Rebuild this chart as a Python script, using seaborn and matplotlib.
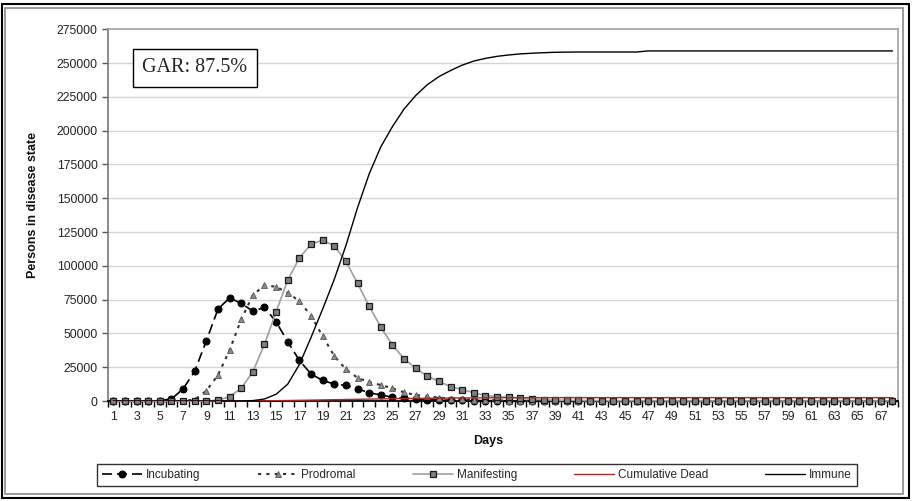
import numpy as np
import pandas as pd
import matplotlib
matplotlib.use("Agg")
import matplotlib.pyplot as plt
import seaborn as sns
from matplotlib.patches import Rectangle

days = list(range(1, 69))

incubating = [0, 0, 0, 0, 300, 1500, 9000, 22000, 44600, 68000,
              76300, 72200, 66500, 69200, 58600, 43800, 30000, 20000, 15200, 12500,
              11500, 9000, 6100, 4500, 2800, 2000, 1500, 1100, 800, 600,
              450, 350, 250, 180, 120, 80, 50, 30, 20, 10,
              0, 0, 0, 0, 0, 0, 0, 0, 0, 0,
              0, 0, 0, 0, 0, 0, 0, 0, 0, 0,
              0, 0, 0, 0, 0, 0, 0, 0]

prodromal = [0, 0, 0, 0, 0, 0, 300, 1000, 7600, 19200,
             37700, 60400, 78300, 85700, 84500, 80000, 73900, 63000, 48000, 33300,
             23400, 17200, 14000, 11800, 9400, 6400, 4400, 3500, 2500, 1800,
             1300, 900, 650, 450, 300, 200, 120, 80, 50, 30,
             0, 0, 0, 0, 0, 0, 0, 0, 0, 0,
             0, 0, 0, 0, 0, 0, 0, 0, 0, 0,
             0, 0, 0, 0, 0, 0, 0, 0]

manifesting = [0, 0, 0, 0, 0, 0, 0, 0, 0, 600,
               3200, 9400, 21700, 41900, 66000, 89400, 105900, 116000, 119000, 114800,
               103500, 87000, 70200, 54700, 41400, 31300, 24100, 18500, 14500, 10600,
               8400, 6100, 4000, 3200, 2700, 2200, 1200, 900, 600, 500,
               400, 300, 250, 200, 200, 150, 150, 120, 120, 100,
               100, 100, 80, 80, 80, 60, 60, 60, 50, 50,
               50, 40, 40, 40, 30, 30, 30, 30]

cumulative_dead = [0, 0, 0, 0, 0, 0, 0, 0, 0, 0,
                   0, 50, 100, 150, 250, 350, 500, 650, 800, 950,
                   1100, 1250, 1400, 1550, 1700, 1800, 1900, 2000, 2100, 2200,
                   2250, 2300, 2350, 2400, 2420, 2440, 2460, 2480, 2490, 2500,
                   2500, 2500, 2500, 2500, 2500, 2500, 2500, 2500, 2500, 2500,
                   2500, 2500, 2500, 2500, 2500, 2500, 2500, 2500, 2500, 2500,
                   2500, 2500, 2500, 2500, 2500, 2500, 2500, 2500]

immune = [0, 0, 0, 0, 0, 0, 0, 0, 0, 0,
          0, 0, 300, 1500, 5000, 12500, 27000, 47000, 68000, 90000,
          115000, 143000, 168000, 188000, 203000, 216000, 226000, 234000, 240000, 244500,
          248500, 251500, 253500, 255000, 256000, 256800, 257300, 257700, 258000, 258100,
          258200, 258200, 258200, 258200, 258200, 258200, 259000, 259000, 259000, 259000,
          259000, 259000, 259000, 259000, 259000, 259000, 259000, 259000, 259000, 259000,
          259000, 259000, 259000, 259000, 259000, 259000, 259000, 259000]

y_ticks = list(range(0, 275001, 25000))
x_tick_days = list(range(1, 68, 2))

df = pd.DataFrame({"Day": days, "Incubating": incubating, "Prodromal": prodromal,
                   "Manifesting": manifesting, "Cumulative Dead": cumulative_dead,
                   "Immune": immune})

sns.set_theme(style="white")
plt.rcParams['font.family'] = ['Liberation Sans', 'DejaVu Sans']

fig = plt.figure(figsize=(9.14, 5.01), dpi=100)
ax = fig.add_axes([107.5 / 914, 1 - 401 / 501, (898.3 - 107.5) / 914, (401 - 29.3) / 501])

# gridlines
for yv in y_ticks[1:-1]:
    ax.axhline(yv, color="#d4d4d4", lw=1.0, zorder=0)

sns.lineplot(data=df, x="Day", y="Incubating", ax=ax, color="black", lw=1.2,
             linestyle=(0, (6, 3)), marker="o", markersize=5,
             markerfacecolor="black", markeredgecolor="black",
             label="Incubating", errorbar=None, clip_on=False, zorder=3)
sns.lineplot(data=df, x="Day", y="Prodromal", ax=ax, color="#333333", lw=1.5,
             linestyle=(0, (1.5, 2.5)), marker="^", markersize=4.6,
             markerfacecolor="#8a8a8a", markeredgecolor="#555555", markeredgewidth=0.6,
             label="Prodromal", errorbar=None, clip_on=False, zorder=4)
sns.lineplot(data=df, x="Day", y="Manifesting", ax=ax, color="#a0a0a0", lw=1.2,
             linestyle="-", marker="s", markersize=4.6,
             markerfacecolor="#808080", markeredgecolor="#1a1a1a", markeredgewidth=0.9,
             label="Manifesting", errorbar=None, clip_on=False, zorder=5)
sns.lineplot(data=df, x="Day", y="Cumulative Dead", ax=ax, color="#a52a2a", lw=1.0,
             linestyle="-", label="Cumulative Dead", errorbar=None, zorder=6)
sns.lineplot(data=df, x="Day", y="Immune", ax=ax, color="black", lw=1.0,
             linestyle="-", label="Immune", errorbar=None, zorder=7)

handles, labels = ax.get_legend_handles_labels()
if ax.get_legend() is not None:
    ax.get_legend().remove()

ax.set_xlim(0.5, 68.5)
ax.set_ylim(0, 275000)
ax.set_xlabel("")
ax.set_ylabel("")

ax.set_yticks(y_ticks)
ax.set_yticklabels([str(v) for v in y_ticks])
ax.set_xticks(x_tick_days)
ax.set_xticklabels([str(d) for d in x_tick_days])
ax.set_xticks([d - 0.5 for d in days] + [68.5], minor=True)
ax.tick_params(axis="x", which="major", length=0, labelsize=8.8, pad=7, labelcolor="#222222")
ax.tick_params(axis="x", which="minor", length=4, width=1, color="black", direction="out", bottom=True)
ax.tick_params(axis="y", which="major", length=4, width=1, color="#555555", direction="out",
               left=True, labelsize=8.8, pad=3, labelcolor="#222222")

for side in ["top", "right"]:
    ax.spines[side].set_color("#a0a0a0")
    ax.spines[side].set_linewidth(1.2)
ax.spines["left"].set_color("#777777")
ax.spines["left"].set_linewidth(1.2)
ax.spines["bottom"].set_color("black")
ax.spines["bottom"].set_linewidth(1.3)
ax.set_facecolor("white")

# GAR box
fig.text(195 / 914, 1 - 68 / 501, "GAR: 87.5%", fontsize=14.5, family="Liberation Serif",
         ha="center", va="center",
         bbox=dict(boxstyle="square,pad=0.45", facecolor="white", edgecolor="black", lw=1.0))

fig.text(33 / 914, 1 - 205 / 501, "Persons in disease state", rotation=90, fontsize=9,
         fontweight="bold", ha="center", va="center", color="#111111")
fig.text(488 / 914, 1 - 441 / 501, "Days", fontsize=9, fontweight="bold",
         ha="center", va="center", color="#111111")

leg = fig.legend(handles, labels, loc="center", bbox_to_anchor=(477 / 914, 1 - 475 / 501),
                 ncol=5, frameon=True, fancybox=False, edgecolor="black", fontsize=8.5,
                 handlelength=3.4, columnspacing=4.85, handletextpad=0.3,
                 borderpad=0.45, numpoints=1)
leg.get_frame().set_linewidth(1.0)

# outer frame of the chart area
fig.patches.append(Rectangle((1.5 / 914, 3 / 501), 907 / 914, 494 / 501, transform=fig.transFigure,
                             fill=False, edgecolor="black", lw=1.5))
fig.patches.append(Rectangle((5 / 914, 7 / 501), 898 / 914, 486 / 501, transform=fig.transFigure,
                             fill=False, edgecolor="#888888", lw=1.2))

fig.savefig("out.png", dpi=100)
